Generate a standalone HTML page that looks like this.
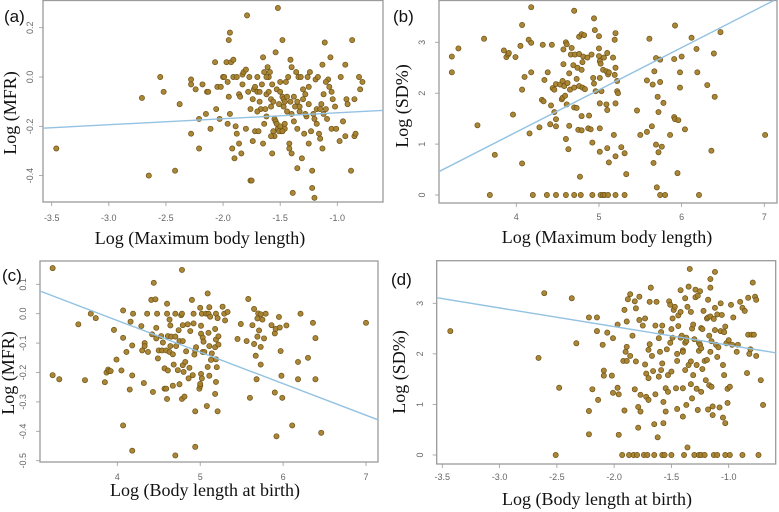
<!DOCTYPE html>
<html><head><meta charset="utf-8"><style>
html,body{margin:0;padding:0;background:#fff;}
svg{display:block;font-family:"Liberation Sans",sans-serif;}
.tick{font-size:9px;fill:#666;}
.ttl{font-family:"Liberation Serif",serif;font-size:18px;fill:#111;}
.lab{font-size:17px;fill:#111;}
</style></head><body>
<svg id="fig" width="779" height="512" viewBox="0 0 779 512"></svg>
<script>
// Panel (a): Log(Maximum body length) vs Log(MFR)
const aX=[-3.46,-2.71,-2.65,-2.55,-2.52,-2.42,-2.38,-2.28,-2.28,-2.28,-2.24,-2.21,-2.21,-2.18,-2.15,-2.14,-2.13,-2.11,-2.07,-2.06,-2.05,-2.03,-2.02,-2.0,-1.99,-1.97,-1.96,-1.96,-1.95,-1.94,-1.95,-1.94,-1.93,-1.92,-1.91,-1.91,-1.9,-1.89,-1.88,-1.88,-1.86,-1.86,-1.85,-1.84,-1.83,-1.83,-1.82,-1.8,-1.8,-1.79,-1.78,-1.77,-1.76,-1.76,-1.75,-1.74,-1.74,-1.73,-1.72,-1.7,-1.7,-1.69,-1.68,-1.68,-1.67,-1.66,-1.65,-1.65,-1.64,-1.64,-1.63,-1.62,-1.62,-1.61,-1.6,-1.6,-1.59,-1.58,-1.58,-1.57,-1.57,-1.56,-1.55,-1.55,-1.54,-1.54,-1.53,-1.52,-1.52,-1.51,-1.5,-1.49,-1.48,-1.48,-1.47,-1.46,-1.45,-1.44,-1.43,-1.42,-1.42,-1.41,-1.41,-1.4,-1.4,-1.39,-1.38,-1.37,-1.36,-1.35,-1.35,-1.34,-1.33,-1.32,-1.31,-1.3,-1.29,-1.28,-1.27,-1.26,-1.25,-1.25,-1.24,-1.23,-1.22,-1.22,-1.21,-1.2,-1.19,-1.18,-1.18,-1.17,-1.16,-1.15,-1.14,-1.13,-1.13,-1.12,-1.11,-1.1,-1.09,-1.08,-1.07,-1.06,-1.05,-1.04,-1.02,-1.01,-0.98,-0.97,-0.95,-0.93,-0.93,-0.92,-0.91,-0.88,-0.87,-0.85,-0.85,-0.84,-0.81,-0.8,-0.78,-1.47,-1.46,-1.44,-1.5,-1.53,-1.51,-1.5,-1.48,-1.46,-1.58,-1.56,-1.35,-1.33,-1.3,-1.28,-1.2,-1.15,-1.12,-1.62,-1.7,-1.72,-1.4,-1.38,-1.25,-1.1,-1.05];
const aY=[-0.29,-0.085,-0.40,0.0,-0.06,-0.38,-0.11,-0.01,-0.03,-0.23,-0.05,-0.17,-0.29,-0.03,-0.15,-0.06,-0.06,-0.21,0.06,-0.13,-0.04,-0.17,-0.04,0.0,0.0,0.06,-0.19,-0.02,0.15,0.18,-0.08,-0.15,0.06,-0.29,0.07,0.0,-0.33,-0.2,-0.23,0.0,-0.27,-0.07,-0.08,-0.31,0.01,-0.03,0.02,-0.21,0.03,0.25,-0.06,0.0,-0.13,-0.42,-0.42,-0.26,-0.09,-0.05,-0.22,-0.06,0.0,-0.22,-0.1,-0.06,-0.13,-0.03,0.08,-0.27,-0.19,0.02,-0.13,-0.16,-0.07,0.04,-0.06,0.0,0.02,-0.09,-0.12,-0.03,-0.31,-0.22,-0.17,-0.24,0.1,-0.18,-0.05,-0.21,0.28,-0.11,-0.02,-0.22,0.15,-0.08,-0.12,-0.21,-0.02,-0.14,0.0,-0.27,-0.29,0.07,-0.1,0.04,-0.31,-0.47,-0.08,-0.12,0.02,-0.37,-0.21,0.0,-0.14,0.0,-0.33,-0.09,-0.23,-0.07,-0.16,0.0,-0.11,-0.27,0.02,-0.22,-0.38,-0.45,-0.15,-0.49,-0.01,-0.19,-0.13,0.0,-0.23,-0.25,-0.11,-0.29,0.05,-0.07,0.14,-0.13,-0.17,-0.01,-0.04,0.08,-0.21,-0.09,-0.12,-0.21,-0.26,0.0,-0.18,0.05,-0.24,-0.09,-0.11,-0.38,0.15,-0.24,-0.09,-0.23,0.0,-0.05,-0.02,-0.09,-0.1,-0.08,-0.06,-0.19,-0.22,-0.2,-0.22,-0.19,-0.24,-0.1,-0.1,-0.12,-0.05,-0.15,-0.17,-0.13,-0.15,0.0,-0.14,-0.04,-0.15,-0.18,-0.04,-0.02,-0.06];
const aFit=[-0.121,0.0242];
// Panel (b): Log(Maximum body length) vs Log(SD%)
const bX=[3.22,3.22,3.30,3.53,3.61,3.68,3.74,3.85,3.88,3.9,3.91,3.96,3.99,4.05,4.07,4.07,4.07,4.1,4.15,4.16,4.18,4.18,4.18,4.2,4.28,4.31,4.32,4.33,4.34,4.37,4.38,4.41,4.42,4.43,4.44,4.46,4.46,4.48,4.48,4.48,4.48,4.53,4.55,4.56,4.56,4.57,4.57,4.58,4.59,4.6,4.6,4.6,4.61,4.61,4.62,4.63,4.64,4.64,4.66,4.65,4.67,4.69,4.7,4.7,4.7,4.7,4.71,4.73,4.73,4.74,4.75,4.76,4.76,4.76,4.77,4.78,4.79,4.79,4.79,4.79,4.8,4.8,4.81,4.82,4.83,4.86,4.87,4.88,4.9,4.91,4.92,4.92,4.93,4.94,4.94,4.95,4.96,5.0,5.0,5.0,5.01,5.01,5.01,5.01,5.01,5.02,5.02,5.03,5.05,5.05,5.06,5.07,5.09,5.09,5.1,5.1,5.1,5.11,5.11,5.12,5.12,5.17,5.18,5.19,5.19,5.2,5.2,5.2,5.2,5.2,5.22,5.22,5.23,5.27,5.31,5.31,5.33,5.46,5.5,5.58,5.58,5.61,5.64,5.65,5.66,5.67,5.69,5.69,5.7,5.71,5.72,5.72,5.74,5.74,5.74,5.76,5.78,5.8,5.86,5.91,5.91,5.92,5.92,5.95,5.96,5.98,5.98,6.0,6.04,6.12,6.18,6.19,6.21,6.31,6.36,6.39,6.4,6.47,7.01];
const bY=[2.72,2.41,2.88,1.37,3.07,0,0.79,2.84,2.71,2.76,2.79,1.58,2.71,2.93,3.34,2.07,0.62,2.32,3.05,1.21,2.99,2.41,3.69,0,1.33,1.87,2.95,1.84,2.26,0,2.41,1.39,1.76,2.95,2.1,2.07,1.63,1.49,1.35,0,2.18,2.17,1.88,2.24,1.91,2.57,2.86,2.14,1.95,3.0,1.1,0,1.78,2.96,2.2,0.9,2.39,1.36,2.76,2.07,2.89,2.55,2.11,1.72,3.62,0,2.76,2.28,1.71,2.5,1.28,2.77,2.14,3.11,0.36,0,3.16,2.46,1.27,1.55,2.11,2.61,2.72,3.14,2.08,2.7,1.31,1.56,1.29,2.76,1.03,0,2.3,2.19,3.47,3.24,2.04,3.12,2.88,2.73,2.63,2.3,1.8,1.31,0.85,0,2.58,2.04,0,2.46,2.7,0,1.78,2.43,1.67,2.79,0.92,0,2.37,0.64,2.41,2.7,1.18,3.05,2.36,1.8,0.76,0,2.5,3.18,2.24,2.04,2.0,0.94,0.82,0,0.41,1.66,1.18,2.25,1.24,3.07,1.35,2.17,0.63,2.43,2.69,0.99,0.15,1.93,0.84,1.63,2.66,2.22,0,0.95,1.81,0,1.18,1.53,2.67,1.49,3.33,0.43,1.47,2.11,2.41,2.72,1.29,3.09,2.87,2.41,0,2.16,0.87,2.78,1.93,3.2,1.18];
const bFit=[-2.084,0.83];
// Panel (c): Log(Body length at birth) vs Log(MFR)
const cX=[3.22,3.22,3.3,3.53,3.61,3.68,3.74,3.85,3.87,3.89,3.9,3.92,3.96,3.99,4.05,4.07,4.07,4.07,4.11,4.15,4.16,4.18,4.18,4.18,4.19,4.29,4.3,4.32,4.33,4.33,4.36,4.37,4.41,4.42,4.43,4.44,4.46,4.47,4.47,4.48,4.49,4.5,4.53,4.54,4.55,4.57,4.57,4.59,4.59,4.6,4.6,4.6,4.61,4.61,4.63,4.63,4.64,4.64,4.65,4.67,4.67,4.68,4.7,4.7,4.7,4.71,4.73,4.74,4.75,4.75,4.77,4.78,4.78,4.78,4.79,4.79,4.79,4.8,4.81,4.82,4.83,4.85,4.86,4.87,4.88,4.9,4.91,4.92,4.92,4.93,4.94,4.94,4.94,4.95,4.99,5.0,5.0,5.0,5.01,5.01,5.01,5.02,5.02,5.03,5.03,5.04,5.05,5.07,5.08,5.09,5.09,5.1,5.1,5.11,5.11,5.11,5.12,5.13,5.14,5.18,5.18,5.18,5.19,5.19,5.19,5.19,5.2,5.21,5.21,5.22,5.22,5.27,5.29,5.3,5.33,5.45,5.49,5.56,5.58,5.6,5.63,5.65,5.65,5.67,5.68,5.69,5.69,5.7,5.71,5.73,5.73,5.73,5.75,5.77,5.79,5.86,5.9,5.9,5.91,5.92,5.95,5.96,5.97,5.98,5.99,6.04,6.11,6.18,6.18,6.21,6.3,6.36,6.39,6.39,6.46,7.0];
const cY=[0.155,-0.209,-0.223,-0.036,-0.226,0.0,-0.015,-0.233,-0.2,-0.19,-0.195,-0.195,-0.055,-0.156,-0.193,-0.38,-0.082,0.011,-0.13,-0.258,-0.027,-0.108,-0.21,-0.466,0,-0.042,-0.125,-0.236,-0.1,-0.11,0,-0.13,0.047,-0.07,-0.266,0.105,0.049,-0.084,-0.048,0,-0.152,-0.125,-0.076,-0.125,-0.098,-0.255,-0.186,-0.125,-0.255,0.034,-0.29,0,-0.076,-0.193,-0.02,-0.13,-0.04,-0.11,-0.078,-0.245,-0.138,-0.173,-0.078,0,-0.482,-0.11,-0.192,-0.056,-0.24,-0.093,-0.005,-0.29,0.149,0,-0.039,-0.175,-0.093,-0.198,-0.282,-0.164,-0.128,-0.036,-0.22,-0.184,-0.059,0.047,-0.209,0,-0.033,-0.139,-0.453,-0.332,-0.125,-0.114,-0.255,-0.245,-0.239,0.02,-0.041,-0.068,-0.205,-0.22,0,-0.081,-0.13,-0.095,-0.13,0,-0.314,0.069,-0.181,-0.065,0,0.022,-0.11,-0.211,-0.01,-0.157,-0.135,-0.052,-0.114,-0.273,0,-0.232,-0.088,-0.155,-0.182,-0.332,-0.015,-0.077,-0.105,0.024,0,-0.023,0.006,-0.086,-0.035,-0.093,0.05,-0.286,-0.039,-0.103,0.016,-0.143,-0.223,-0.016,-0.078,0.001,-0.057,-0.113,-0.002,-0.173,-0.02,-0.084,0,-0.039,-0.268,-0.067,-0.052,-0.417,-0.011,-0.047,-0.127,-0.211,-0.286,-0.04,-0.38,-0.164,-0.223,0,-0.15,-0.031,-0.223,-0.083,-0.405,-0.031];
const cFit=[0.4065,-0.1074];
// Panel (d): Log(Body length at birth) vs Log(SD%)
const dX=[-3.43,-2.66,-2.61,-2.51,-2.48,-2.37,-2.33,-2.22,-2.22,-2.22,-2.19,-2.15,-2.15,-2.14,-2.1,-2.09,-2.09,-2.06,-2.02,-2.01,-2.01,-1.97,-1.97,-1.96,-1.96,-1.93,-1.92,-1.91,-1.91,-1.9,-1.89,-1.89,-1.89,-1.88,-1.87,-1.86,-1.86,-1.84,-1.83,-1.82,-1.82,-1.81,-1.81,-1.8,-1.79,-1.79,-1.78,-1.78,-1.77,-1.77,-1.75,-1.74,-1.73,-1.73,-1.72,-1.72,-1.71,-1.7,-1.7,-1.7,-1.69,-1.69,-1.68,-1.67,-1.66,-1.65,-1.65,-1.64,-1.64,-1.63,-1.62,-1.61,-1.61,-1.6,-1.59,-1.59,-1.58,-1.58,-1.58,-1.57,-1.57,-1.56,-1.55,-1.55,-1.54,-1.53,-1.53,-1.52,-1.51,-1.51,-1.5,-1.5,-1.5,-1.49,-1.49,-1.48,-1.47,-1.46,-1.45,-1.45,-1.45,-1.44,-1.44,-1.42,-1.42,-1.42,-1.41,-1.4,-1.4,-1.4,-1.4,-1.39,-1.38,-1.38,-1.38,-1.37,-1.37,-1.37,-1.36,-1.36,-1.35,-1.35,-1.34,-1.33,-1.33,-1.33,-1.32,-1.32,-1.31,-1.31,-1.3,-1.3,-1.29,-1.29,-1.28,-1.28,-1.27,-1.27,-1.26,-1.26,-1.26,-1.25,-1.25,-1.24,-1.24,-1.24,-1.24,-1.23,-1.23,-1.22,-1.21,-1.21,-1.2,-1.19,-1.19,-1.18,-1.18,-1.18,-1.17,-1.17,-1.16,-1.16,-1.16,-1.16,-1.15,-1.15,-1.14,-1.14,-1.13,-1.13,-1.12,-1.12,-1.12,-1.11,-1.1,-1.1,-1.1,-1.09,-1.08,-1.07,-1.07,-1.06,-1.05,-1.05,-1.04,-1.04,-1.03,-1.03,-1.03,-1.02,-1.01,-1.01,-1.0,-0.99,-0.99,-0.98,-0.97,-0.96,-0.93,-0.92,-0.9,-0.88,-0.88,-0.86,-0.84,-0.83,-0.83,-0.82,-0.81,-0.8,-0.79,-0.78,-0.77,-0.76,-0.76,-0.74,-0.72,-0.7];
const dY=[2.45,1.92,3.2,0,1.33,3.1,2.21,2.72,0.41,0.87,1.3,2.72,2.45,1.09,2.18,1.67,1.57,2.42,1.57,2.31,1.23,2.58,1.33,1.2,0.4,0,1.86,2.87,0.88,2.04,1.86,2.14,2.64,3.08,0,1.96,3.18,2.36,0,3.04,1.3,2.9,1.85,0,0.54,0.95,3.13,2.67,0.86,1.19,2.56,0,1.79,2.7,1.15,1.61,0,1.52,2.08,1.09,2.19,3.03,3.31,1.96,1.66,0.61,0,2.56,1.2,3.03,0.35,1.55,2.31,2.04,1.68,2.43,2.56,0,1.81,0.63,1.05,0,1.32,0.86,2.09,1.58,1.25,3.04,2.97,2.22,1.65,2.49,0,2.32,2.7,2.87,2.93,1.32,0.91,1.86,2.0,2.55,2.76,2.83,2.32,3.26,2.36,2.07,1.32,0.76,2.04,0,3.1,1.68,2.22,0.99,2.32,2.25,0.15,2.93,1.78,3.33,3.68,1.4,2.83,1.85,1.12,2.5,2.58,1.58,2.29,0,3.12,3.27,1.78,1.31,3.15,0.89,0,2.06,2.22,3.24,2.18,0,1.25,2.11,2.51,1.7,2.49,2.85,0,1.86,1.48,2.7,1.88,3.07,2.72,0.9,2.36,1.38,3.48,3.31,2.04,2.74,1.35,2.25,0.96,0.79,0,2.69,3.62,2.91,2.47,2.18,0,2.78,1.94,2.13,0.94,3.0,2.45,2.77,0.74,1.78,2.43,1.58,0.63,2.54,0,2.21,1.31,1.03,2.27,0,1.35,2.97,2.18,2.72,2.04,2.18,3.03,0,2.91,2.85,1.62,3.11,2.38,2.0,2.09,2.38,3.41,2.38,3.13,1.96,3.07,0,1.48,0.99];
const dFit=[1.804,-0.368];

const aXT=["-3.5","-3.0","-2.5","-2.0","-1.5","-1.0"], aYT=["-0.4","-0.2","0.0","0.2"];
const bXT=["4","5","6","7"], bYT=["0","1","2","3"];
const cXT=["4","5","6","7"], cYT=["-0.5","-0.4","-0.3","-0.2","-0.1","0.0","0.1"];
const dXT=aXT, dYT=bYT;

const NS="http://www.w3.org/2000/svg";
const svg=document.getElementById('fig');
function mk(tag,attrs,parent){const e=document.createElementNS(NS,tag);for(const k in attrs)e.setAttribute(k,attrs[k]);(parent||svg).appendChild(e);return e;}

function panel(id,box,xs,ys,fit,xt,yt,map,letter,xTitle,yTitle,pos){
  const g=mk('g',{});
  
  
  const [x0v,x0p,x1v,x1p,y0v,y0p,y1v,y1p]=map;
  const sx=v=>x0p+(v-x0v)*(x1p-x0p)/(x1v-x0v);
  const sy=v=>y0p+(v-y0v)*(y1p-y0p)/(y1v-y0v);
  const ix=p=>x0v+(p-x0p)*(x1v-x0v)/(x1p-x0p);
  const [L,T,R,B]=box;
  const clipId='clip-'+id;
  const cp=mk('clipPath',{id:clipId},g);mk('rect',{x:L,y:T,width:R-L,height:B-T},cp);
  const frame=mk('rect',{x:L,y:T,width:R-L,height:B-T,fill:'none',stroke:'#9a9a9a','stroke-width':1.3},g);
  
  
  xt.forEach(t=>{const v=parseFloat(t),p=sx(v);
    mk('line',{x1:p,x2:p,y1:B,y2:B+4,stroke:'#999','stroke-width':0.8},g);
    const tx=mk('text',{x:p,y:pos.xtY,'text-anchor':'middle',class:'tick'},g);tx.textContent=t;
    
    });
  yt.forEach(t=>{const v=parseFloat(t),p=sy(v);
    mk('line',{x1:L-4,x2:L,y1:p,y2:p,stroke:'#999','stroke-width':0.8},g);
    const tx=mk('text',{x:pos.ytX,y:p,'text-anchor':'middle',class:'tick',transform:`rotate(-90 ${pos.ytX} ${p})`},g);tx.textContent=t;
    
    });
  const pg=mk('g',{'clip-path':`url(#${clipId})`},g);
  
  
  xs.forEach((xv,i)=>{const c=mk('circle',{cx:sx(xv),cy:sy(ys[i]),r:2.6,fill:'#a5802c',stroke:'#6e5317','stroke-width':0.7,'fill-opacity':0.95},pg);
    
    });
  const xa=ix(L),xb=ix(R);
  const ln=mk('line',{x1:L,y1:sy(fit[0]+fit[1]*xa),x2:R,y2:sy(fit[0]+fit[1]*xb),stroke:'#93c2e2','stroke-width':1.4,'clip-path':`url(#${clipId})`},g);
  
  
  const lt=mk('text',{x:pos.lx,y:pos.ly,class:'lab'},g);lt.textContent=letter;
  
  
  const xtl=mk('text',{x:pos.xtx,y:pos.xty,'text-anchor':'middle',class:'ttl'},g);xtl.textContent=xTitle;
  
  
  const ytl=mk('text',{x:pos.ytx,y:pos.yty,'text-anchor':'middle',class:'ttl',transform:`rotate(-90 ${pos.ytx} ${pos.yty})`},g);ytl.textContent=yTitle;
  
  
}
panel('a',[43,0.5,383,202],aX,aY,aFit,aXT,aYT,[-3.5,51.7,-1.0,337.3,0,77,0.2,27.7],'(a)','Log (Maximum body length)','Log (MFR)',
  {xtY:221,ytX:33,lx:4,ly:22,xtx:200,xty:244,ytx:16,yty:113});
panel('b',[439,0.5,777,203],bX,bY,bFit,bXT,bYT,[4,516.3,7,764.3,0,195,3,42.3],'(b)','Log (Maximum body length)','Log (SD%)',
  {xtY:220,ytX:425,lx:393,ly:22,xtx:607,xty:243,ytx:408,yty:106});
panel('c',[40,261,378,462],cX,cY,cFit,cXT,cYT,[4,117.3,7,366,0,313.7,0.1,284.3],'(c)','Log (Body length at birth)','Log (MFR)',
  {xtY:480,ytX:26,lx:2,ly:281,xtx:205,xty:496,ytx:14,yty:373});
panel('d',[436.7,260.7,775.7,464],dX,dY,dFit,dXT,dYT,[-3.5,442.3,-1.0,728.7,0,455,3,303.3],'(d)','Log (Body length at birth)','Log (SD%)',
  {xtY:480,ytX:423,lx:391,ly:285,xtx:597,xty:505,ytx:405,yty:372});
</script>
</body></html>
